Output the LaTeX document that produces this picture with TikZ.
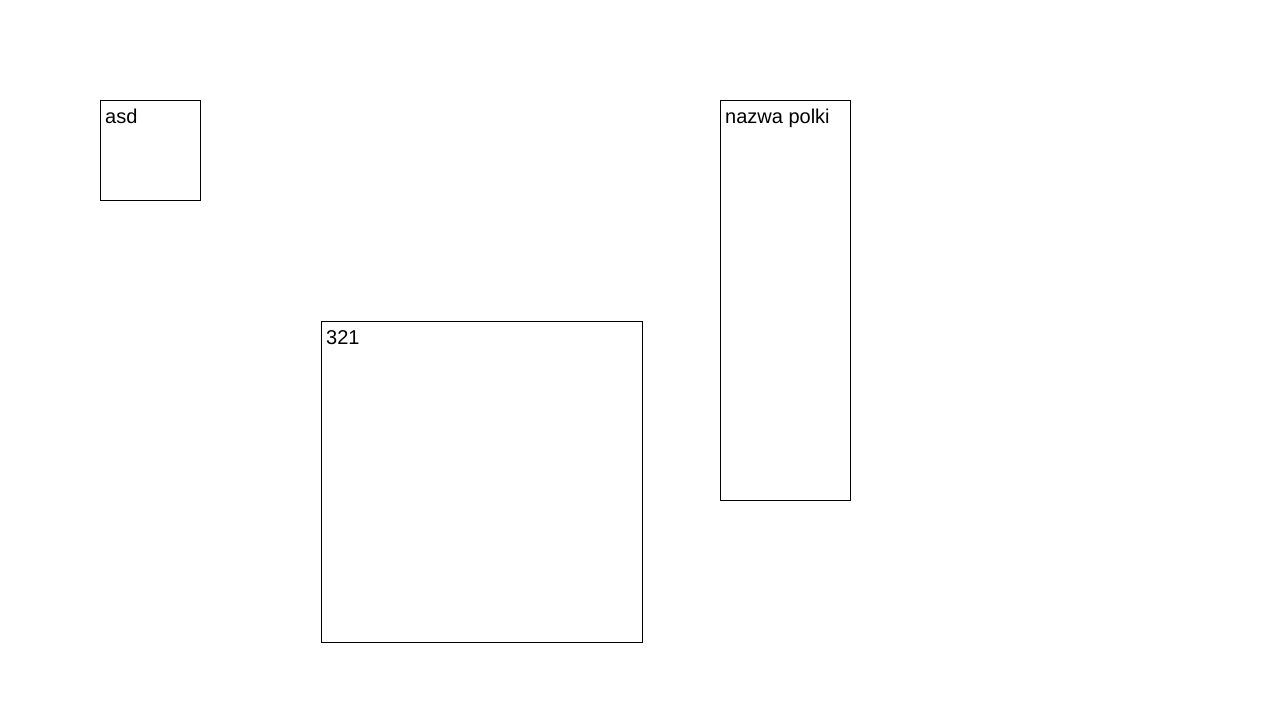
\documentclass[tikz,border=0pt]{standalone}
\usepackage{fontspec}
\setmainfont{Liberation Sans}
\begin{document}
\begin{tikzpicture}[x=1pt,y=-1pt,
  boxst/.style={draw=black,line width=1pt,fill=white},
  lbl/.style={anchor=base west,inner sep=0pt,font=\fontsize{20}{23}\selectfont}]
\useasboundingbox (0,0) rectangle (1280,720);
\fill[white] (0,0) rectangle (1280,720);
\draw[boxst] (100.5,100.5) rectangle (200.5,200.5);
\node[lbl] (a) at (105,123.5) {asd};
\draw[boxst] (321.5,321.5) rectangle (642.5,642.5);
\node[lbl] (b) at (326,344.5) {321};
\draw[boxst] (720.5,100.5) rectangle (850.5,500.5);
\node[lbl] (c) at (725,123.5) {nazwa polki};
\end{tikzpicture}
\end{document}
